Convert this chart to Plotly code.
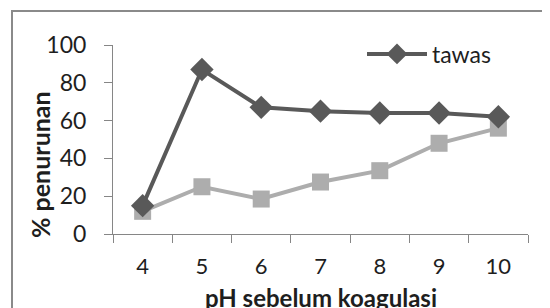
import plotly.graph_objects as go

ph = ["4", "5", "6", "7", "8", "9", "10"]
tawas = [15, 87, 67, 65, 64, 64, 62]
series2 = [12, 25, 18.5, 27.5, 33.5, 48, 56]
y_ticks = [0, 20, 40, 60, 80, 100]

FONT = "Lato"
AX = "#868686"
TXT = "#1e1e1e"
OFF = 8  # page body margin offset

fig = go.Figure()
fig.add_trace(go.Scatter(
    x=ph, y=series2, mode="lines+markers", name="series2", showlegend=False,
    line=dict(color="#adadad", width=4),
    marker=dict(symbol="square", size=17, color="#adadad"),
))
fig.add_trace(go.Scatter(
    x=ph, y=tawas, mode="lines+markers", name="tawas",
    line=dict(color="#595959", width=4),
    marker=dict(symbol="diamond", size=18, color="#595959"),
))

W, H = 550, 308
L = 113 - OFF
T = 45 - OFF
R = W - (528 - OFF)
B = H - (234 - OFF)
pw = W - L - R
ph_ = H - T - B

def px(x):
    return (x - OFF - L) / pw

def py(y):
    return (H - B - (y - OFF)) / ph_

fig.update_layout(
    width=W, height=H,
    margin=dict(l=L, r=R, t=T, b=B, pad=0),
    paper_bgcolor="white", plot_bgcolor="white",
    font=dict(family=FONT, size=22, color=TXT),
    legend=dict(x=px(362), y=py(54), xanchor="left", yanchor="middle",
                bgcolor="rgba(0,0,0,0)", itemwidth=60,
                font=dict(size=23, family=FONT, color=TXT)),
    xaxis=dict(type="category", range=[-0.5, 6.5], showline=True, linecolor=AX,
               linewidth=1, ticks="outside", tickson="boundaries", ticklen=8,
               tickcolor=AX, showgrid=False, zeroline=False,
               ticklabelstandoff=13, tickfont=dict(size=22)),
    yaxis=dict(range=[0, 100], tickvals=y_ticks, showline=True, linecolor=AX,
               linewidth=1, ticks="outside", ticklen=8, tickcolor=AX,
               showgrid=False, zeroline=False, ticklabelstandoff=13,
               tickfont=dict(size=23)),
    annotations=[
        dict(text="<b>pH sebelum koagulasi</b>", xref="paper", yref="paper",
             x=px(321), y=py(297), xanchor="center", yanchor="middle",
             showarrow=False, font=dict(size=24, family=FONT, color=TXT)),
        dict(text="<b>% penurunan</b>", xref="paper", yref="paper",
             x=px(40), y=py(165), xanchor="center", yanchor="middle",
             textangle=-90, showarrow=False,
             font=dict(size=25, family=FONT, color=TXT)),
    ],
    shapes=[
        dict(type="rect", xref="paper", yref="paper",
             x0=px(12), x1=px(570), y0=py(330), y1=py(11),
             line=dict(color="#8a8a8a", width=2), layer="below"),
    ],
)

fig.write_html("out.html")
